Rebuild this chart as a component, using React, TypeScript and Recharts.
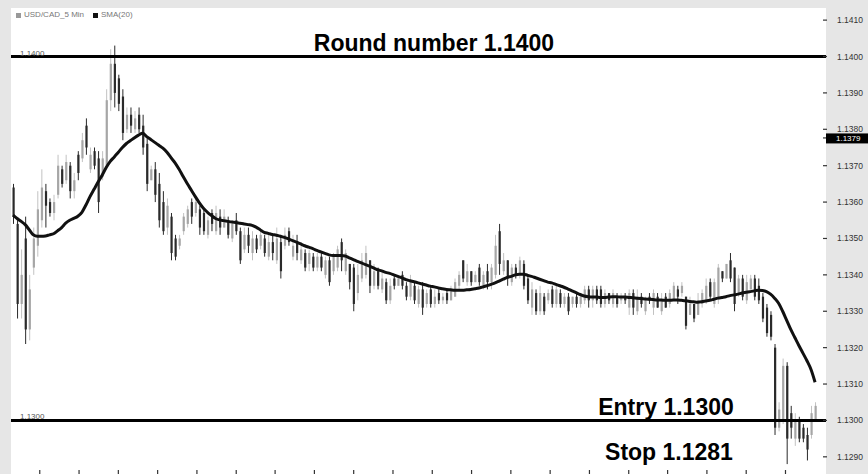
import React from 'react';
import { ComposedChart, Bar, Line, XAxis, YAxis, CartesianGrid, ReferenceLine } from 'recharts';

// USD/CAD 5 min bars
const highs = [
  1.1365, 1.1355, 1.1347, 1.1356, 1.1340, 1.1353, 1.1363, 1.1369, 1.1365, 1.1361,
  1.1362, 1.1373, 1.1370, 1.1373, 1.1371, 1.1368, 1.1374, 1.1379, 1.1383, 1.1375,
  1.1375, 1.1374, 1.1374, 1.1391, 1.1402, 1.1403, 1.1395, 1.1391, 1.1386, 1.1386,
  1.1385, 1.1386, 1.1384, 1.1378, 1.1370, 1.1371, 1.1368, 1.1363, 1.1361, 1.1357,
  1.1351, 1.1351, 1.1357, 1.1359, 1.1361, 1.1361, 1.1359, 1.1358, 1.1356, 1.1358,
  1.1359, 1.1358, 1.1358, 1.1356, 1.1355, 1.1357, 1.1353, 1.1353, 1.1353, 1.1352,
  1.1351, 1.1352, 1.1351, 1.1351, 1.1351, 1.1353, 1.1351, 1.1353, 1.1353, 1.1351,
  1.1351, 1.1349, 1.1347, 1.1347, 1.1346, 1.1346, 1.1346, 1.1345, 1.1345, 1.1346,
  1.1348, 1.1350, 1.1347, 1.1343, 1.1343, 1.1343, 1.1346, 1.1348, 1.1344, 1.1343,
  1.1342, 1.1341, 1.1339, 1.1339, 1.1340, 1.1340, 1.1341, 1.1338, 1.1340, 1.1338,
  1.1337, 1.1338, 1.1336, 1.1337, 1.1336, 1.1336, 1.1335, 1.1336, 1.1337, 1.1339,
  1.1341, 1.1344, 1.1343, 1.1341, 1.1341, 1.1343, 1.1341, 1.1343, 1.1343, 1.1351,
  1.1354, 1.1346, 1.1344, 1.1343, 1.1343, 1.1345, 1.1344, 1.1340, 1.1338, 1.1336,
  1.1337, 1.1335, 1.1336, 1.1337, 1.1337, 1.1336, 1.1335, 1.1335, 1.1334, 1.1335,
  1.1335, 1.1337, 1.1337, 1.1337, 1.1337, 1.1337, 1.1336, 1.1335, 1.1336, 1.1335,
  1.1335, 1.1335, 1.1336, 1.1336, 1.1336, 1.1335, 1.1334, 1.1335, 1.1336, 1.1335,
  1.1335, 1.1335, 1.1336, 1.1338, 1.1337, 1.1338, 1.1334, 1.1334, 1.1332, 1.1335,
  1.1336, 1.1339, 1.1339, 1.1339, 1.1343, 1.1341, 1.1343, 1.1346, 1.1342, 1.1340,
  1.1340, 1.1340, 1.1340, 1.1340, 1.1339, 1.1335, 1.1332, 1.1330, 1.1321, 1.1305,
  1.1317, 1.1316, 1.1304, 1.1302, 1.1301, 1.1299, 1.1298, 1.1304, 1.1305,
];

const lows = [
  1.1354, 1.1328, 1.1328, 1.1321, 1.1322, 1.1340, 1.1345, 1.1353, 1.1353, 1.1356,
  1.1355, 1.1361, 1.1364, 1.1365, 1.1361, 1.1361, 1.1366, 1.1371, 1.1373, 1.1368,
  1.1369, 1.1357, 1.1366, 1.1369, 1.1385, 1.1386, 1.1385, 1.1377, 1.1379, 1.1379,
  1.1379, 1.1379, 1.1373, 1.1363, 1.1366, 1.1360, 1.1353, 1.1351, 1.1351, 1.1344,
  1.1344, 1.1347, 1.1351, 1.1353, 1.1354, 1.1356, 1.1351, 1.1351, 1.1350, 1.1352,
  1.1351, 1.1351, 1.1353, 1.1350, 1.1349, 1.1351, 1.1343, 1.1346, 1.1346, 1.1344,
  1.1346, 1.1347, 1.1345, 1.1344, 1.1344, 1.1343, 1.1339, 1.1347, 1.1348, 1.1344,
  1.1344, 1.1343, 1.1341, 1.1341, 1.1341, 1.1341, 1.1341, 1.1339, 1.1337, 1.1340,
  1.1341, 1.1341, 1.1340, 1.1336, 1.1330, 1.1333, 1.1338, 1.1339, 1.1335, 1.1336,
  1.1336, 1.1335, 1.1332, 1.1332, 1.1336, 1.1337, 1.1336, 1.1333, 1.1333, 1.1332,
  1.1331, 1.1329, 1.1331, 1.1331, 1.1331, 1.1332, 1.1332, 1.1332, 1.1333, 1.1334,
  1.1336, 1.1338, 1.1337, 1.1337, 1.1338, 1.1337, 1.1336, 1.1336, 1.1336, 1.1339,
  1.1340, 1.1340, 1.1337, 1.1337, 1.1339, 1.1339, 1.1336, 1.1332, 1.1329, 1.1329,
  1.1329, 1.1329, 1.1332, 1.1331, 1.1331, 1.1331, 1.1331, 1.1329, 1.1331, 1.1331,
  1.1331, 1.1332, 1.1331, 1.1331, 1.1332, 1.1331, 1.1331, 1.1332, 1.1331, 1.1331,
  1.1332, 1.1332, 1.1329, 1.1329, 1.1329, 1.1331, 1.1329, 1.1332, 1.1329, 1.1331,
  1.1329, 1.1331, 1.1331, 1.1333, 1.1332, 1.1334, 1.1325, 1.1329, 1.1327, 1.1329,
  1.1331, 1.1332, 1.1333, 1.1331, 1.1332, 1.1338, 1.1339, 1.1338, 1.1330, 1.1334,
  1.1333, 1.1332, 1.1336, 1.1333, 1.1332, 1.1327, 1.1323, 1.1322, 1.1296, 1.1297,
  1.1299, 1.1288, 1.1295, 1.1293, 1.1294, 1.1294, 1.1289, 1.1295, 1.1300,
];

const opens = [
  1.1364, 1.1354, 1.1332, 1.1350, 1.1325, 1.1342, 1.1348, 1.1355, 1.1363, 1.1360,
  1.1357, 1.1362, 1.1369, 1.1366, 1.1370, 1.1363, 1.1373, 1.1372, 1.1381, 1.1369,
  1.1374, 1.1372, 1.1367, 1.1370, 1.1388, 1.1398, 1.1394, 1.1389, 1.1380, 1.1384,
  1.1380, 1.1384, 1.1381, 1.1376, 1.1366, 1.1369, 1.1365, 1.1360, 1.1353, 1.1356,
  1.1350, 1.1348, 1.1352, 1.1354, 1.1360, 1.1357, 1.1358, 1.1357, 1.1351, 1.1357,
  1.1352, 1.1356, 1.1353, 1.1355, 1.1350, 1.1355, 1.1352, 1.1347, 1.1351, 1.1346,
  1.1350, 1.1348, 1.1350, 1.1345, 1.1349, 1.1344, 1.1349, 1.1348, 1.1352, 1.1345,
  1.1349, 1.1344, 1.1346, 1.1343, 1.1345, 1.1342, 1.1345, 1.1340, 1.1344, 1.1341,
  1.1342, 1.1349, 1.1341, 1.1343, 1.1342, 1.1335, 1.1339, 1.1340, 1.1344, 1.1337,
  1.1341, 1.1336, 1.1338, 1.1333, 1.1339, 1.1337, 1.1340, 1.1337, 1.1334, 1.1337,
  1.1332, 1.1336, 1.1332, 1.1336, 1.1332, 1.1335, 1.1333, 1.1335, 1.1333, 1.1334,
  1.1337, 1.1344, 1.1338, 1.1341, 1.1338, 1.1342, 1.1337, 1.1341, 1.1338, 1.1340,
  1.1352, 1.1341, 1.1344, 1.1338, 1.1342, 1.1340, 1.1343, 1.1339, 1.1331, 1.1335,
  1.1330, 1.1334, 1.1333, 1.1336, 1.1332, 1.1335, 1.1332, 1.1334, 1.1332, 1.1334,
  1.1332, 1.1333, 1.1336, 1.1333, 1.1336, 1.1336, 1.1332, 1.1335, 1.1332, 1.1334,
  1.1333, 1.1334, 1.1331, 1.1335, 1.1330, 1.1334, 1.1330, 1.1334, 1.1331, 1.1334,
  1.1330, 1.1334, 1.1332, 1.1333, 1.1336, 1.1335, 1.1334, 1.1329, 1.1332, 1.1329,
  1.1332, 1.1333, 1.1338, 1.1332, 1.1334, 1.1341, 1.1339, 1.1344, 1.1342, 1.1335,
  1.1339, 1.1333, 1.1336, 1.1339, 1.1337, 1.1334, 1.1331, 1.1329, 1.1320, 1.1298,
  1.1300, 1.1315, 1.1302, 1.1295, 1.1300, 1.1298, 1.1296, 1.1296, 1.1300,
];

const closes = [
  1.1356, 1.1332, 1.1340, 1.1325, 1.1336, 1.1350, 1.1358, 1.1364, 1.1359, 1.1357,
  1.1360, 1.1370, 1.1365, 1.1371, 1.1363, 1.1366, 1.1368, 1.1377, 1.1375, 1.1373,
  1.1370, 1.1360, 1.1372, 1.1388, 1.1398, 1.1390, 1.1387, 1.1379, 1.1384, 1.1381,
  1.1383, 1.1380, 1.1375, 1.1365, 1.1369, 1.1362, 1.1355, 1.1352, 1.1359, 1.1346,
  1.1345, 1.1350, 1.1356, 1.1358, 1.1356, 1.1360, 1.1353, 1.1352, 1.1355, 1.1354,
  1.1357, 1.1353, 1.1356, 1.1351, 1.1354, 1.1352, 1.1344, 1.1351, 1.1348, 1.1350,
  1.1347, 1.1351, 1.1346, 1.1349, 1.1346, 1.1350, 1.1341, 1.1351, 1.1349, 1.1348,
  1.1346, 1.1347, 1.1342, 1.1346, 1.1342, 1.1345, 1.1342, 1.1344, 1.1338, 1.1345,
  1.1347, 1.1344, 1.1346, 1.1338, 1.1332, 1.1340, 1.1344, 1.1346, 1.1337, 1.1341,
  1.1337, 1.1339, 1.1333, 1.1337, 1.1337, 1.1339, 1.1337, 1.1334, 1.1338, 1.1333,
  1.1336, 1.1331, 1.1335, 1.1332, 1.1334, 1.1333, 1.1334, 1.1333, 1.1336, 1.1338,
  1.1340, 1.1339, 1.1341, 1.1338, 1.1340, 1.1338, 1.1340, 1.1338, 1.1342, 1.1348,
  1.1343, 1.1344, 1.1339, 1.1342, 1.1340, 1.1344, 1.1337, 1.1333, 1.1336, 1.1330,
  1.1335, 1.1330, 1.1335, 1.1332, 1.1336, 1.1332, 1.1334, 1.1330, 1.1334, 1.1332,
  1.1334, 1.1336, 1.1333, 1.1336, 1.1333, 1.1332, 1.1335, 1.1333, 1.1335, 1.1332,
  1.1334, 1.1333, 1.1335, 1.1331, 1.1334, 1.1332, 1.1333, 1.1333, 1.1335, 1.1331,
  1.1333, 1.1331, 1.1335, 1.1337, 1.1334, 1.1337, 1.1326, 1.1332, 1.1328, 1.1333,
  1.1335, 1.1337, 1.1334, 1.1338, 1.1342, 1.1339, 1.1343, 1.1339, 1.1332, 1.1339,
  1.1334, 1.1338, 1.1339, 1.1334, 1.1333, 1.1328, 1.1324, 1.1323, 1.1298, 1.1303,
  1.1315, 1.1295, 1.1298, 1.1300, 1.1295, 1.1295, 1.1292, 1.1302, 1.1304,
];

const sma20 = [
  1.13564, 1.13555, 1.13547, 1.13538, 1.13524, 1.1351, 1.13506, 1.13506, 1.13507, 1.1351,
  1.13513, 1.13521, 1.1353, 1.13542, 1.1355, 1.13555, 1.13561, 1.13572, 1.13592, 1.13615,
  1.13635, 1.13655, 1.13674, 1.13695, 1.13712, 1.13724, 1.13737, 1.1375, 1.13761, 1.13769,
  1.13777, 1.13784, 1.13789, 1.1378, 1.13772, 1.13764, 1.13756, 1.13748, 1.13737, 1.13722,
  1.13708, 1.1369, 1.1367, 1.13651, 1.13633, 1.13615, 1.13598, 1.13583, 1.13572, 1.13563,
  1.13555, 1.13551, 1.13549, 1.13547, 1.13545, 1.13544, 1.13542, 1.1354, 1.13538, 1.13536,
  1.13531, 1.13524, 1.13517, 1.13514, 1.13511, 1.13509, 1.13506, 1.13503, 1.13499, 1.13494,
  1.1349, 1.13485, 1.1348, 1.13476, 1.13472, 1.13467, 1.13463, 1.13459, 1.13455, 1.13453,
  1.13453, 1.13453, 1.13452, 1.13447, 1.13442, 1.13437, 1.13433, 1.13428, 1.13424, 1.13419,
  1.13414, 1.13411, 1.13407, 1.13404, 1.134, 1.13396, 1.13392, 1.13387, 1.13384, 1.13381,
  1.13378, 1.13375, 1.13372, 1.13369, 1.13367, 1.13364, 1.13362, 1.1336, 1.13359, 1.13358,
  1.13358, 1.13358, 1.13359, 1.1336, 1.13362, 1.13364, 1.13367, 1.1337, 1.13374, 1.13378,
  1.13383, 1.13388, 1.13393, 1.13396, 1.134, 1.13402, 1.13402, 1.13399, 1.13396, 1.13392,
  1.13388, 1.13384, 1.1338, 1.13378, 1.13374, 1.1337, 1.13366, 1.13361, 1.13356, 1.13351,
  1.13346, 1.13342, 1.1334, 1.13339, 1.13339, 1.13338, 1.13338, 1.13339, 1.1334, 1.1334,
  1.13339, 1.13339, 1.13338, 1.13337, 1.13336, 1.13335, 1.13334, 1.13333, 1.13332, 1.13331,
  1.13331, 1.1333, 1.1333, 1.13331, 1.13331, 1.1333, 1.13329, 1.13327, 1.13326, 1.13325,
  1.13326, 1.13328, 1.1333, 1.13333, 1.13336, 1.13338, 1.1334, 1.13343, 1.13345, 1.13347,
  1.1335, 1.13352, 1.13354, 1.13356, 1.13358, 1.13357, 1.13354, 1.13347, 1.13336, 1.13322,
  1.133, 1.13275, 1.1325, 1.13228, 1.13206, 1.13185, 1.13164, 1.1314, 1.13105,
];

const priceTicks = [
  1.129, 1.13, 1.131, 1.132, 1.133, 1.134, 1.135, 1.136, 1.137, 1.138, 1.139, 1.14, 1.141,
];
// bar positions of the hourly time marks along the bottom
const timeTicks = [
  6.6, 16.3, 26.0, 35.7, 45.4, 55.1, 64.7, 74.4, 84.1, 93.8,
  103.5, 113.2, 122.9, 132.6, 142.3, 152.0, 161.6, 171.3, 181.0, 190.7,
];
const roundNumber = 1.14;
const entry = 1.13;
const stop = 1.1281;
const lastMark = 1.1379;

const data = highs.map((h, i) => ({
  t: i,
  high: h,
  low: lows[i],
  open: opens[i],
  close: closes[i],
  sma: sma20[i],
}));

const FONT = '"Liberation Sans", Arial, sans-serif';

const OhlcBar = (props: any) => {
  const { x, y, width, height, payload } = props;
  if (x == null || y == null || !payload) return null;
  const top = Math.min(y, y + height);
  const h = Math.abs(height);
  const cx = x + width / 2;
  const span = payload.high - payload.low || 1e-9;
  const toY = (v: number) => top + ((payload.high - v) / span) * h;
  const down = payload.close < payload.open;
  const bodyTop = toY(Math.max(payload.open, payload.close));
  const bodyBot = toY(Math.min(payload.open, payload.close));
  const wick = down ? '#2a2a2a' : '#c2c2c2';
  const body = down ? '#2a2a2a' : '#a6a6a6';
  return (
    <g>
      <line x1={cx} x2={cx} y1={top} y2={top + h} stroke={wick} strokeWidth={1} />
      <rect x={cx - 1} y={bodyTop} width={2.2} height={Math.max(1, bodyBot - bodyTop)} fill={body} />
    </g>
  );
};

const PriceTick = (props: any) => {
  const { x, y, payload } = props;
  return (
    <g>
      <line x1={x - 3} x2={x + 1} y1={y} y2={y} stroke="#333" strokeWidth={1.2} />
      <text x={x + 11} y={y + 3} fontSize={8.5} fill="#333" fontFamily={FONT}>
        {payload.value.toFixed(4)}
      </text>
    </g>
  );
};

export default function App() {
  return (
    <div style={{ position: 'absolute', left: 0, top: 0, width: 868, height: 474, background: '#e6e6e6', fontFamily: FONT }}>
      <ComposedChart width={868} height={474} data={data} margin={{ top: 8, right: 0, bottom: 0, left: 11 }}>
        <CartesianGrid horizontal={false} vertical={false} fill="#ffffff" />
        <XAxis
          type="number"
          dataKey="t"
          domain={[-0.5, 200.7]}
          ticks={timeTicks}
          tickFormatter={() => ''}
          height={5}
          axisLine={false}
          tickLine={{ stroke: '#333', strokeWidth: 1.2 }}
          tickSize={4}
          mirror
        />
        <YAxis
          orientation="right"
          width={42}
          domain={[1.128528, 1.141333]}
          allowDataOverflow
          ticks={priceTicks}
          interval={0}
          tick={<PriceTick />}
          tickLine={false}
          tickSize={0}
          tickMargin={0}
          axisLine={false}
        />
        <Bar
          dataKey={(d: any) => [d.low, d.high]}
          barSize={3}
          shape={<OhlcBar />}
          isAnimationActive={false}
        />
        <Line
          type="monotone"
          dataKey="sma"
          stroke="#111"
          strokeWidth={3}
          dot={false}
          isAnimationActive={false}
        />
        <ReferenceLine
          y={roundNumber}
          stroke="#000"
          strokeWidth={3}
          label={(p: any) => {
            const vb = p.viewBox;
            return (
              <g>
                <text x={vb.x + 9} y={vb.y - 1} fontSize={8} fill="#555" fontFamily={FONT}>1.1400</text>
                <text x={vb.x + 423} y={vb.y - 6} textAnchor="middle" fontSize={23} fontWeight="bold" fill="#000" fontFamily={FONT}>
                  Round number 1.1400
                </text>
              </g>
            );
          }}
        />
        <ReferenceLine
          y={entry}
          stroke="#000"
          strokeWidth={3}
          label={(p: any) => {
            const vb = p.viewBox;
            return (
              <g>
                <text x={vb.x + 9} y={vb.y - 1} fontSize={8} fill="#555" fontFamily={FONT}>1.1300</text>
                <text x={vb.x + 655} y={vb.y - 5} textAnchor="middle" fontSize={23} fontWeight="bold" fill="#000" fontFamily={FONT}>
                  Entry 1.1300
                </text>
                <text x={vb.x + 658} y={vb.y + 40} textAnchor="middle" fontSize={23} fontWeight="bold" fill="#000" fontFamily={FONT}>
                  Stop {stop.toFixed(4)}
                </text>
              </g>
            );
          }}
        />
        <ReferenceLine
          y={lastMark}
          stroke="none"
          label={(p: any) => {
            const vb = p.viewBox;
            const rx = vb.x + vb.width;
            return (
              <g>
                <line x1={rx - 3} x2={rx} y1={vb.y + 5} y2={vb.y + 5} stroke="#333" strokeWidth={1.2} />
                <rect x={rx} y={vb.y + 0.5} width={42} height={10} fill="#000" />
                <text x={rx + 10} y={vb.y + 8.5} fontSize={8} fill="#fff" fontFamily={FONT}>
                  {lastMark.toFixed(4)}
                </text>
              </g>
            );
          }}
        />
      </ComposedChart>
      <div style={{ position: 'absolute', left: 16, top: 10, fontSize: 8, color: '#777', display: 'flex', alignItems: 'center', lineHeight: '10px' }}>
        <span style={{ display: 'inline-block', width: 5, height: 5, background: '#999', marginRight: 3 }} />
        <span>USD/CAD_5 Min</span>
        <span style={{ display: 'inline-block', width: 5, height: 5, background: '#111', marginLeft: 9, marginRight: 3 }} />
        <span>SMA(20)</span>
      </div>
    </div>
  );
}
